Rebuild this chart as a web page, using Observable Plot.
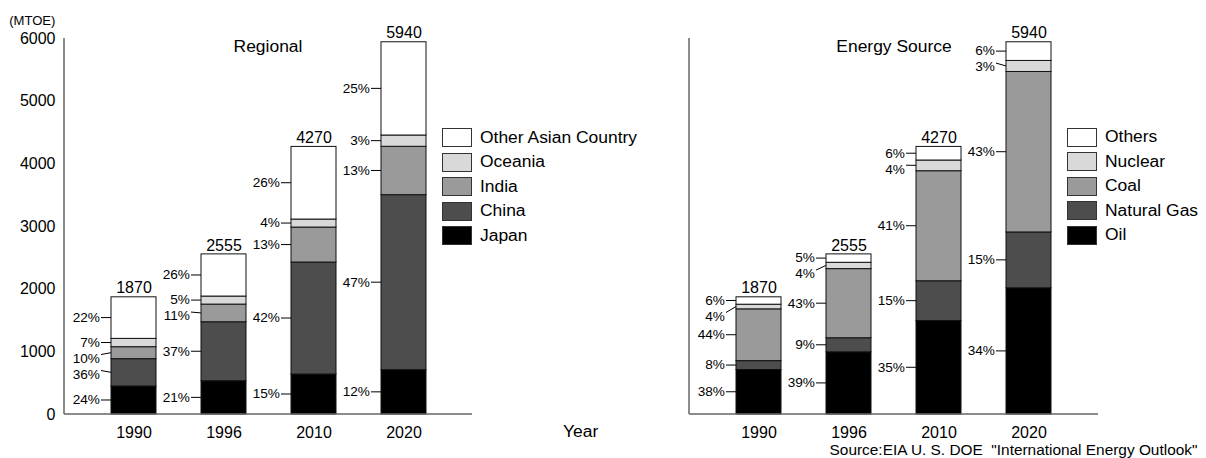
<!DOCTYPE html>
<html>
<head>
<meta charset="utf-8">
<script src="https://cdn.jsdelivr.net/npm/d3@7"></script>
<script src="https://cdn.jsdelivr.net/npm/@observablehq/plot@0.6"></script>
<style>
  html, body { margin: 0; padding: 0; background: #fff; }
  #wrap { position: relative; width: 1206px; height: 458px; overflow: hidden;
          font-family: "Liberation Sans", Arial, sans-serif; color: #000; }
  #left, #right { position: absolute; top: 0; }
  #left { left: 0; } #right { left: 603px; }
  .t { position: absolute; white-space: nowrap; line-height: 16px; font-size: 16px; }
  .sw { position: absolute; width: 28px; height: 17px; border: 1px solid #333; }
</style>
</head>
<body>
<div id="wrap">
  <div id="left"></div>
  <div id="right"></div>
</div>
<script>
// ---------- data ----------
const years = ["1990", "1996", "2010", "2020"];
const totals = [1870, 2555, 4270, 5940];

// Regional (MTOE), bottom to top
const regions = ["Japan", "China", "India", "Oceania", "Other Asian Country"];
const japan = [447, 531, 638, 707];
const china = [436, 941, 1787, 2793];
const india = [191, 282, 558, 772];
const oceania = [133, 128, 128, 180];
const otherAsia = [663, 673, 1159, 1488];
const japanPct = ["24%", "21%", "15%", "12%"];
const chinaPct = ["36%", "37%", "42%", "47%"];
const indiaPct = ["10%", "11%", "13%", "13%"];
const oceaniaPct = ["7%", "5%", "4%", "3%"];
const otherAsiaPct = ["22%", "26%", "26%", "25%"];

// Energy source (MTOE), bottom to top
const sources = ["Oil", "Natural Gas", "Coal", "Nuclear", "Others"];
const oil = [710, 992, 1491, 2014];
const gas = [142, 225, 635, 891];
const coal = [826, 1103, 1756, 2561];
const nuclear = [74, 101, 171, 176];
const others = [118, 134, 217, 298];
const oilPct = ["38%", "39%", "35%", "34%"];
const gasPct = ["8%", "9%", "15%", "15%"];
const coalPct = ["44%", "43%", "41%", "43%"];
const nuclearPct = ["4%", "4%", "4%", "3%"];
const othersPct = ["6%", "5%", "6%", "6%"];

const yTicks = [0, 1000, 2000, 3000, 4000, 5000, 6000];
const grays = ["#000000", "#4d4d4d", "#9a9a9a", "#d9d9d9", "#ffffff"];
const STRETCH = 1.09; // the reference lettering is slightly wide

// ---------- helpers ----------
function buildRows(cats, series, pcts) {
  const rows = [];
  years.forEach((yr, i) => {
    cats.forEach((c, k) => rows.push({year: yr, cat: c, value: series[k][i], pct: pcts[k][i]}));
  });
  return rows;
}

function pctLabels(rows) {
  // render-function mark: uses the plot's own x / y scales
  return (index, scales, values, dims) => {
    const sx = scales.x, sy = scales.y;
    const g = d3.create("svg:g")
      .attr("font-family", "Liberation Sans, Arial, sans-serif")
      .attr("font-size", 12.5);
    // axis lines
    g.append("line")
      .attr("x1", dims.marginLeft).attr("x2", dims.marginLeft)
      .attr("y1", dims.marginTop).attr("y2", dims.height - dims.marginBottom)
      .attr("stroke", "#666").attr("stroke-width", 1.5);
    g.append("line")
      .attr("x1", dims.marginLeft).attr("x2", dims.width - dims.marginRight)
      .attr("y1", dims.height - dims.marginBottom).attr("y2", dims.height - dims.marginBottom)
      .attr("stroke", "#666").attr("stroke-width", 1.5);
    const GAP = 16;
    years.forEach(yr => {
      const segs = rows.filter(r => r.year === yr);
      let cum = 0;
      const items = segs.map(r => {
        const lo = cum; cum += r.value;
        return {pct: r.pct, mid: (sy(lo) + sy(cum)) / 2};
      });
      items.reverse();
      let prev = -Infinity;
      items.forEach(it => {
        it.y = Math.max(it.mid, prev + GAP);
        prev = it.y;
      });
      const left = sx(yr);
      items.forEach(it => {
        const moved = it.y - it.mid > 1;
        g.append("line")
          .attr("x1", left - 10).attr("y1", moved ? it.y - 4 : it.y)
          .attr("x2", left).attr("y2", it.mid)
          .attr("stroke", "#000").attr("stroke-width", 1);
        g.append("text")
          .attr("x", left - 11).attr("y", it.y)
          .attr("dy", "0.35em")
          .attr("text-anchor", "end")
          .attr("fill", "#000")
          .text(it.pct);
      });
    });
    return g.node();
  };
}

function makePanel(cats, series, pcts, showY, margins) {
  const rows = buildRows(cats, series, pcts);
  const totalRows = years.map((yr, i) => ({year: yr, total: totals[i]}));
  return Plot.plot({
    width: 603,
    height: 458,
    marginTop: 38,
    marginBottom: 44,
    marginLeft: margins[0],
    marginRight: margins[1],
    style: {fontFamily: "Liberation Sans, Arial, sans-serif", fontSize: "16px", color: "#000", background: "transparent", overflow: "visible"},
    x: {domain: years, padding: 0.5, label: null, tickSize: 0, tickPadding: 12},
    y: showY
      ? {domain: [0, 6000], ticks: yTicks, tickSize: 0, tickPadding: 9, label: null, tickFormat: d => String(d)}
      : {domain: [0, 6000], axis: null},
    color: {domain: cats, range: grays},
    marks: [
      Plot.barY(rows, {x: "year", y: "value", fill: "cat", stroke: "#111", strokeWidth: 1}),
      Plot.text(totalRows, {x: "year", y: "total", text: d => String(d.total), dy: -9, fontSize: 16, fill: "#000"}),
      pctLabels(rows)
    ]
  });
}

function widenSvgText(svg) {
  svg.querySelectorAll("text").forEach(t => {
    if (t.getAttribute("transform")) return;
    const a = getComputedStyle(t).textAnchor;
    t.style.transformBox = "fill-box";
    t.style.transformOrigin = a === "end" ? "right center" : a === "middle" ? "center" : "left center";
    t.style.transform = `scaleX(${STRETCH})`;
  });
}

const leftSvg = makePanel(regions, [japan, china, india, oceania, otherAsia],
            [japanPct, chinaPct, indiaPct, oceaniaPct, otherAsiaPct], true, [64, 131]);
const rightSvg = makePanel(sources, [oil, gas, coal, nuclear, others],
            [oilPct, gasPct, coalPct, nuclearPct, othersPct], false, [86, 108]);
document.getElementById("left").append(leftSvg);
document.getElementById("right").append(rightSvg);
widenSvgText(leftSvg);
widenSvgText(rightSvg);

// ---------- overlay texts & legends ----------
const wrap = document.getElementById("wrap");
function addText(txt, x, yc, opts = {}) {
  const d = document.createElement("div");
  d.className = "t";
  d.textContent = txt;
  const fs = opts.size || 16;
  const k = opts.stretch || STRETCH;
  d.style.fontSize = fs + "px";
  d.style.lineHeight = fs + "px";
  d.style.top = (yc - fs * 0.49) + "px";
  if (opts.anchor === "end") {
    d.style.right = (1206 - x) + "px";
    d.style.transformOrigin = "right center";
    d.style.transform = `scaleX(${k})`;
  } else if (opts.anchor === "middle") {
    d.style.left = x + "px";
    d.style.transformOrigin = "center";
    d.style.transform = `translateX(-50%) scaleX(${k})`;
  } else {
    d.style.left = x + "px";
    d.style.transformOrigin = "left center";
    d.style.transform = `scaleX(${k})`;
  }
  wrap.appendChild(d);
}
function addLegend(cats, x, yTop) {
  const order = cats.slice().reverse();
  const cols = grays.slice().reverse();
  order.forEach((c, i) => {
    const s = document.createElement("div");
    s.className = "sw";
    s.style.left = x + "px";
    s.style.top = (yTop + i * 24.5) + "px";
    s.style.background = cols[i];
    wrap.appendChild(s);
    addText(c, x + 38, yTop + i * 24.5 + 9.5);
  });
}

addText("(MTOE)", 55, 21, {size: 12, anchor: "end"});
addText("Regional", 268, 47, {anchor: "middle"});
addText("Energy Source", 894, 47, {anchor: "middle"});
addText("Year", 563, 432);
addLegend(regions, 442, 128);
addLegend(sources, 1067, 127.5);
addText('Source:EIA U. S. DOE\u00A0\u00A0"International Energy Outlook"', 1197, 450, {size: 14, anchor: "end", stretch: 1.1});
</script>
</body>
</html>
